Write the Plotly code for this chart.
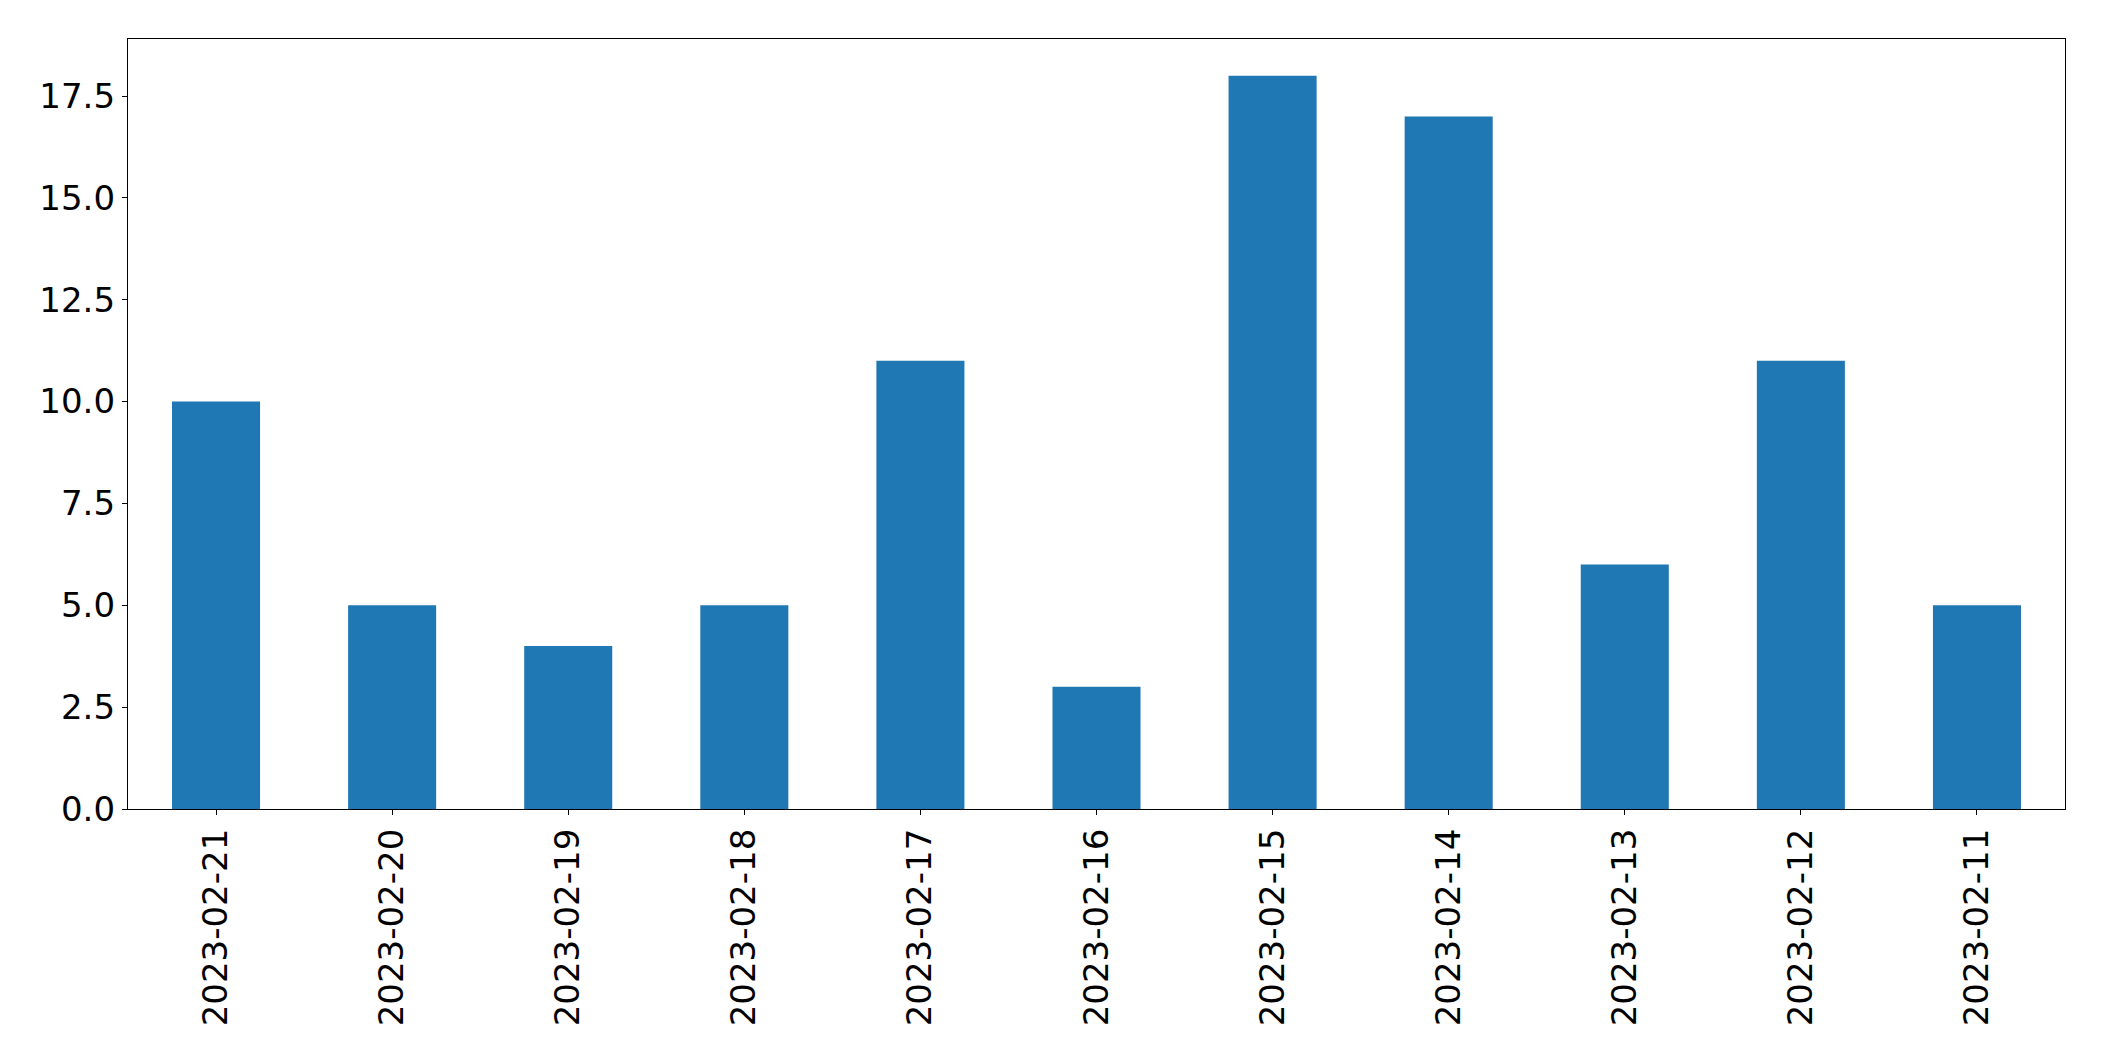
import plotly.graph_objects as go

dates = ["2023-02-21", "2023-02-20", "2023-02-19", "2023-02-18", "2023-02-17",
         "2023-02-16", "2023-02-15", "2023-02-14", "2023-02-13", "2023-02-12", "2023-02-11"]
counts = [10, 5, 4, 5, 11, 3, 18, 17, 6, 11, 5]

fig = go.Figure(go.Bar(x=dates, y=counts, marker=dict(color="#1f77b4", line=dict(width=0)), width=0.5))

font = dict(family="DejaVu Sans", size=34, color="black")
fig.update_layout(
    width=2088, height=1045,
    margin=dict(l=120, r=31, t=31, b=244, autoexpand=False),
    paper_bgcolor="white", plot_bgcolor="white",
    showlegend=False,
    font=font,
)
fig.update_xaxes(
    type="category", range=[-0.5, 10.5], tickangle=-90,
    showline=True, linecolor="black", linewidth=1.3, mirror=True,
    ticks="outside", ticklen=5, tickwidth=1.3, tickcolor="black",
    showgrid=False, zeroline=False, tickfont=font, automargin=False,
)
fig.update_yaxes(
    range=[0, 18.9], dtick=2.5, tick0=0, tickformat=".1f",
    showline=True, linecolor="black", linewidth=1.3, mirror=True,
    ticks="outside", ticklen=5, tickwidth=1.3, tickcolor="black",
    showgrid=False, zeroline=False, tickfont=font, automargin=False,
)
fig.write_html("out.html")
